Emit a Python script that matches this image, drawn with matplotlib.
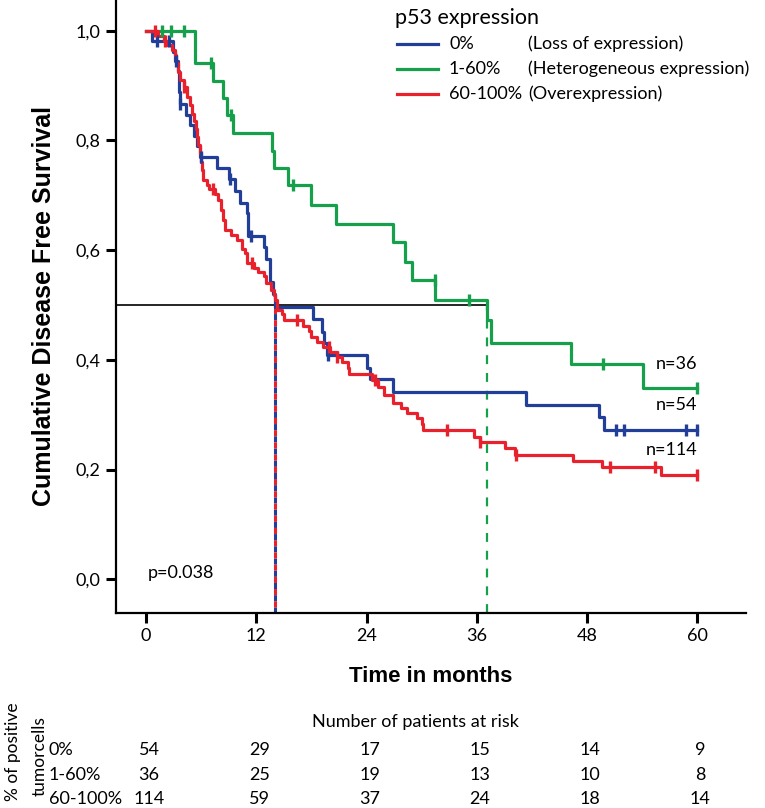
import numpy as np
import matplotlib
matplotlib.use("Agg")
import matplotlib.pyplot as plt
from matplotlib.lines import Line2D

# ---- data ----
groups = ["0%", "1-60%", "60-100%"]
group_desc = ["(Loss of expression)", "(Heterogeneous expression)", "(Overexpression)"]
colors = ["#213f98", "#16a04b", "#e8212c"]
n_labels = ["n=54", "n=36", "n=114"]

# 0% (blue): event times and survival after each step
blue_t = [0.6, 2.9, 3.2, 3.5, 3.6, 3.7, 4.3, 4.8, 5.2, 5.5, 5.9, 7.7, 9.0, 9.7, 10.2,
          11.0, 11.1, 12.8, 13.1, 13.5, 13.8, 14.05, 18.2, 19.1, 19.4, 19.7, 24.0,
          24.4, 26.9, 41.4, 49.3, 49.8]
blue_s = [0.981, 0.962, 0.945, 0.926, 0.888, 0.866, 0.847, 0.828, 0.809, 0.790, 0.770,
          0.749, 0.729, 0.707, 0.686, 0.667, 0.626, 0.605, 0.583, 0.542, 0.520, 0.497,
          0.474, 0.451, 0.430, 0.409, 0.385, 0.365, 0.341, 0.318, 0.296, 0.272]
blue_cens = [1.2, 2.5, 3.3, 3.7, 5.95, 9.1, 11.4, 19.75, 51.2, 52.0, 58.8, 60.0]

# 1-60% (green)
green_t = [5.3, 7.3, 8.4, 8.8, 9.45, 13.7, 13.9, 15.5, 18.0, 20.7, 26.9, 28.2, 28.9,
           31.5, 37.1, 37.5, 46.2, 54.1]
green_s = [0.942, 0.909, 0.877, 0.846, 0.814, 0.780, 0.749, 0.718, 0.682, 0.648, 0.614,
           0.579, 0.546, 0.509, 0.473, 0.431, 0.392, 0.348]
green_cens = [1.7, 2.7, 4.1, 7.1, 9.3, 16.0, 31.4, 35.1, 49.7, 60.0]

# 60-100% (red)
red_t = [1.3, 2.0, 2.3, 2.8, 3.1, 3.3, 3.5, 3.7, 4.1, 4.5, 4.8, 5.0, 5.2, 5.4, 5.5, 5.7,
         5.9, 6.0, 6.1, 6.2, 6.6, 6.8, 7.5, 7.8, 8.2, 8.4, 8.6, 9.3, 9.9, 10.4, 10.8,
         11.0, 11.7, 12.2, 12.8, 13.1, 13.6, 13.9, 14.0, 14.2, 14.8, 15.0, 17.1, 17.7,
         18.0, 18.6, 19.3, 20.0, 20.8, 21.3, 22.0, 22.1, 24.6, 25.3, 25.9, 26.9, 27.7,
         28.4, 29.5, 30.0, 30.1, 35.7, 36.3, 39.1, 40.2, 46.5, 49.6, 56.1]
red_s = [0.991, 0.982, 0.974, 0.965, 0.956, 0.941, 0.925, 0.910, 0.897, 0.880, 0.865,
         0.849, 0.835, 0.820, 0.807, 0.792, 0.777, 0.760, 0.746, 0.728, 0.719, 0.711,
         0.702, 0.691, 0.673, 0.655, 0.637, 0.628, 0.619, 0.603, 0.594, 0.576, 0.567,
         0.561, 0.552, 0.540, 0.527, 0.518, 0.509, 0.491, 0.483, 0.473, 0.462, 0.452,
         0.442, 0.433, 0.424, 0.415, 0.406, 0.397, 0.385, 0.375, 0.363, 0.351, 0.336,
         0.321, 0.312, 0.303, 0.294, 0.284, 0.272, 0.260, 0.251, 0.239, 0.227, 0.216,
         0.204, 0.190]
red_cens = [1.0, 2.1, 4.1, 7.3, 11.5, 16.4, 19.9, 20.8, 24.9, 32.8, 36.4, 40.3, 50.5,
            55.4, 60.0]

risk_times = [0, 12, 24, 36, 48, 60]
risk_blue = [54, 29, 17, 15, 14, 9]
risk_green = [36, 25, 19, 13, 10, 8]
risk_red = [114, 59, 37, 24, 18, 14]
p_value = "p=0.038"
t_end = 60.0

curves = [(blue_t, blue_s, blue_cens), (green_t, green_s, green_cens), (red_t, red_s, red_cens)]
risk = [risk_blue, risk_green, risk_red]

FONT = "Lato"
W, H = 765, 808
fig = plt.figure(figsize=(W / 100, H / 100), dpi=100)
fig.patch.set_facecolor("white")
ax = fig.add_axes([116 / W, 1 - 613 / H, 630 / W, 613 / H])


def step_value(times, surv, t):
    idx = np.searchsorted(np.asarray(times), t, side="right")
    return 1.0 if idx == 0 else surv[idx - 1]


medians = []
for (tt, ss, cc), col in zip(curves, colors):
    x = np.concatenate([[0.0], tt, [t_end]])
    y = np.concatenate([[1.0], ss, [ss[-1]]])
    ax.step(x, y, where="post", color=col, lw=2.3, zorder=3)
    cy = [step_value(tt, ss, c) for c in cc]
    ax.plot(cc, cy, ls="none", marker="|", ms=9, mew=2.4, color=col, zorder=4)
    medians.append(tt[int(np.argmax(np.asarray(ss) <= 0.5))])

ax.set_xlim(-3.27, 65.3)
ax.set_ylim(-0.0614, 1.056)

# median reference lines
ax.hlines(0.5, -3.27, medians[1], color="black", lw=1.2, zorder=2)
ax.vlines(medians[0], -0.0614, 0.5, color=colors[0], lw=2.2, linestyles=(0, (2, 2)), zorder=2)
ax.vlines(medians[0], -0.0614, 0.5, color=colors[2], lw=2.2, linestyles=(2, (2, 2)), zorder=2)
ax.vlines(medians[1], -0.0614, 0.5, color=colors[1], lw=1.6, linestyles=(0, (4, 4)), zorder=2)

for sp in ["top", "right"]:
    ax.spines[sp].set_visible(False)
for sp in ["left", "bottom"]:
    ax.spines[sp].set_linewidth(1.6)

ax.set_xticks(risk_times)
ax.set_xticklabels([str(t) for t in risk_times], fontsize=13, family=FONT)
ax.set_yticks([0, 0.2, 0.4, 0.6, 0.8, 1.0])
ax.set_yticklabels(["0,0", "0,2", "0,4", "0,6", "0,8", "1,0"], fontsize=13, family=FONT)
ax.tick_params(length=7, width=2.2, pad=4)

ax.set_xlabel("Time in months", fontsize=16, fontweight="bold", family="Liberation Sans",
              labelpad=16)
ax.set_ylabel("Cumulative Disease Free Survival", fontsize=18, fontweight="bold",
              family="Liberation Sans", labelpad=14)

ax.text(0.2, 0.012, p_value, fontsize=13, family=FONT, va="center", ha="left")

# n labels at end of curves
for (tt, ss, cc), lab in zip(curves, n_labels):
    ax.text(t_end + 0.0, ss[-1] + 0.045, lab, fontsize=13, family=FONT, ha="right",
            va="center")

# legend (drawn manually to keep the two text columns)
fig.text(395 / W, 1 - 18 / H, "p53 expression", fontsize=15.5, family=FONT, va="center")
for i, (g, d, col) in enumerate(zip(groups, group_desc, colors)):
    yy = 1 - (44 + i * 25) / H
    fig.add_artist(Line2D([397 / W, 438 / W], [yy, yy], color=col, lw=2.3))
    fig.text(449 / W, yy, g, fontsize=13, family=FONT, va="center")
    fig.text(528 / W, yy, d, fontsize=13, family=FONT, va="center")

# number at risk table
fig.text(415 / W, 1 - 722 / H, "Number of patients at risk", fontsize=13, family=FONT,
         ha="center", va="center")
row_y = [750, 775, 799]
for vals, g, yp in zip(risk, groups, row_y):
    fig.text(49 / W, 1 - yp / H, g, fontsize=13, family=FONT, va="center")
    for t, v in zip(risk_times, vals):
        xd = ax.transData.transform((t, 0))[0] / W
        fig.text(xd + 3 / W, 1 - yp / H, str(v), fontsize=13, family=FONT,
                 ha="center", va="center")
fig.text(13 / W, 1 - 752 / H, "% of positive", fontsize=12.5, family=FONT, rotation=90,
         ha="center", va="center")
fig.text(40 / W, 1 - 756 / H, "tumorcells", fontsize=12.5, family=FONT, rotation=90,
         ha="center", va="center")

fig.savefig("out.png", dpi=100, facecolor="white")
